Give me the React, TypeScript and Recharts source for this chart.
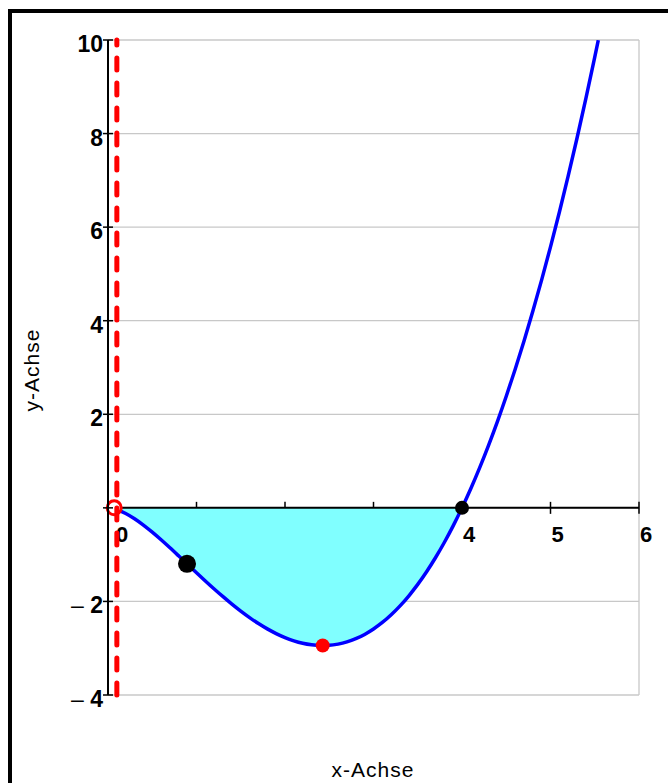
import React from 'react';
import {
  ComposedChart,
  Line,
  Area,
  XAxis,
  YAxis,
  CartesianGrid,
  ReferenceLine,
  ReferenceDot,
} from 'recharts';

// Curve sample points
const curveX = [
  0.1, 0.2, 0.3, 0.4, 0.5, 0.6, 0.7, 0.8, 0.9, 1.0,
  1.1, 1.2, 1.3, 1.4, 1.5, 1.6, 1.7, 1.8, 1.9, 2.0,
  2.1, 2.2, 2.3, 2.4, 2.5, 2.6, 2.7, 2.8, 2.9, 3.0,
  3.1, 3.2, 3.3, 3.4, 3.5, 3.6, 3.7, 3.8, 3.9, 4.0,
  4.1, 4.2, 4.3, 4.4, 4.5, 4.6, 4.7, 4.8, 4.9, 5.0,
  5.1, 5.2, 5.3, 5.4, 5.5, 5.54,
];
const curveY = [
  -0.037, -0.12, -0.233, -0.368, -0.52, -0.683, -0.854, -1.03, -1.208, -1.386,
  -1.562, -1.734, -1.899, -2.058, -2.207, -2.346, -2.473, -2.587, -2.687, -2.773,
  -2.842, -2.894, -2.927, -2.942, -2.938, -2.912, -2.865, -2.796, -2.705, -2.589,
  -2.45, -2.285, -2.095, -1.879, -1.636, -1.365, -1.067, -0.741, -0.385, 0,
  0.415, 0.861, 1.337, 1.845, 2.385, 2.957, 3.562, 4.201, 4.873, 5.579,
  6.319, 7.094, 7.905, 8.751, 9.633, 9.996,
];
const fillEndX = 4;

const xTicks = [0, 1, 2, 3, 4, 5, 6];
const xTickLabels = ['0', '', '', '', '4', '5', '6'];
const yTicks = [-4, -2, 0, 2, 4, 6, 8, 10];
const yTickLabels = ['–4', '–2', '', '2', '4', '6', '8', '10'];

const asymptoteX = 0.1;
const openPoint = { x: 0.07, y: 0 };
const inflectionPoint = { x: 0.893, y: -1.196 };
const minimumPoint = { x: 2.426, y: -2.943 };
const zeroPoint = { x: 4, y: 0 };

const data = curveX.map((x, i) => ({
  x,
  y: curveY[i],
  fill: x <= fillEndX ? curveY[i] : null,
}));

const FONT = '"Liberation Sans", Arial, Helvetica, sans-serif';

const YTick = (props: any) => {
  const { x, y, payload } = props;
  const idx = yTicks.indexOf(payload.value);
  const label = idx >= 0 ? yTickLabels[idx] : '';
  const neg = label.startsWith('–');
  return (
    <g>
      <line x1={x} y1={y} x2={x + 10} y2={y} stroke="#000" strokeWidth={1.5} />
      {label && (
        <text x={x} y={y + 12} textAnchor="end" fontFamily={FONT} fontSize={23} fill="#000">
          {neg && <tspan fontWeight="normal">{'– '}</tspan>}
          <tspan fontWeight="bold">{neg ? label.slice(1) : label}</tspan>
        </text>
      )}
    </g>
  );
};

const makeXTick = (label: string, value: number) => (p: any) => (
  <g>
    <line x1={p.cx} y1={p.cy - 6} x2={p.cx} y2={p.cy + 6} stroke="#000" strokeWidth={1.5} />
    {label && (
      <text
        x={p.cx + (value === 0 ? 8 : 1)}
        y={p.cy + 34}
        textAnchor="start"
        fontFamily={FONT}
        fontSize={22}
        fontWeight="bold"
        fill="#000"
      >
        {label}
      </text>
    )}
  </g>
);

export default function App() {
  return (
    <div style={{ position: 'absolute', left: 8, top: 8, width: 660, height: 775 }}>
      <div
        style={{
          position: 'absolute',
          left: 0,
          top: 1,
          width: 660,
          height: 774,
          borderLeft: '4px solid #000',
          borderTop: '4px solid #000',
          boxSizing: 'border-box',
        }}
      />
      <div style={{ position: 'absolute', left: 0, top: 0 }}>
        <ComposedChart
          width={660}
          height={775}
          data={data}
          margin={{ top: 32, right: 29, bottom: 0, left: 0 }}
        >
          <CartesianGrid stroke="#c8c8c8" strokeWidth={1.3} />
          <XAxis
            type="number"
            dataKey="x"
            domain={[0, 6]}
            ticks={xTicks}
            height={88}
            axisLine={false}
            tickLine={false}
            tick={false}
            allowDataOverflow
            label={{
              content: () => (
                <text
                  x={365}
                  y={769}
                  textAnchor="middle"
                  fontFamily={FONT}
                  fontSize={21}
                  letterSpacing={1}
                  fill="#000"
                >
                  x-Achse
                </text>
              ),
            }}
          />
          <YAxis
            type="number"
            domain={[-4, 10]}
            ticks={yTicks}
            width={100}
            allowDataOverflow
            axisLine={{ stroke: '#000', strokeWidth: 2 }}
            tickLine={false}
            tickSize={5}
            tickMargin={0}
            tick={<YTick />}
            interval={0}
            label={{
              content: () => (
                <text
                  x={31}
                  y={362}
                  transform="rotate(-90, 31, 362)"
                  textAnchor="middle"
                  fontFamily={FONT}
                  fontSize={21}
                  letterSpacing={1}
                  fill="#000"
                >
                  y-Achse
                </text>
              ),
            }}
          />
          {xTicks.map((v, i) => (
            <ReferenceDot
              key={`xt${v}`}
              x={v}
              y={0}
              r={1}
              zIndex={50}
              shape={makeXTick(xTickLabels[i], v)}
            />
          ))}
          <Area
            type="monotone"
            dataKey="fill"
            baseValue={0}
            fill="#80ffff"
            fillOpacity={1}
            stroke="none"
            isAnimationActive={false}
            dot={false}
            activeDot={false}
            zIndex={100}
          />
          <ReferenceLine y={0} stroke="#000" strokeWidth={2} zIndex={150} />
          <Line
            type="monotone"
            dataKey="y"
            stroke="#0000ff"
            strokeWidth={3.5}
            dot={false}
            activeDot={false}
            isAnimationActive={false}
            zIndex={400}
          />
          <ReferenceDot
            x={openPoint.x}
            y={openPoint.y}
            r={7}
            fill="#fff"
            stroke="#ff0000"
            strokeWidth={3}
            zIndex={420}
          />
          <ReferenceLine
            x={asymptoteX}
            stroke="#ff0000"
            strokeWidth={5}
            strokeDasharray="12 13"
            strokeLinecap="round"
            zIndex={450}
          />
          <ReferenceDot x={inflectionPoint.x} y={inflectionPoint.y} r={9} fill="#000" stroke="none" zIndex={600} />
          <ReferenceDot x={zeroPoint.x} y={zeroPoint.y} r={7} fill="#000" stroke="none" zIndex={600} />
          <ReferenceDot x={minimumPoint.x} y={minimumPoint.y} r={7} fill="#ff0000" stroke="none" zIndex={600} />
        </ComposedChart>
      </div>
    </div>
  );
}
